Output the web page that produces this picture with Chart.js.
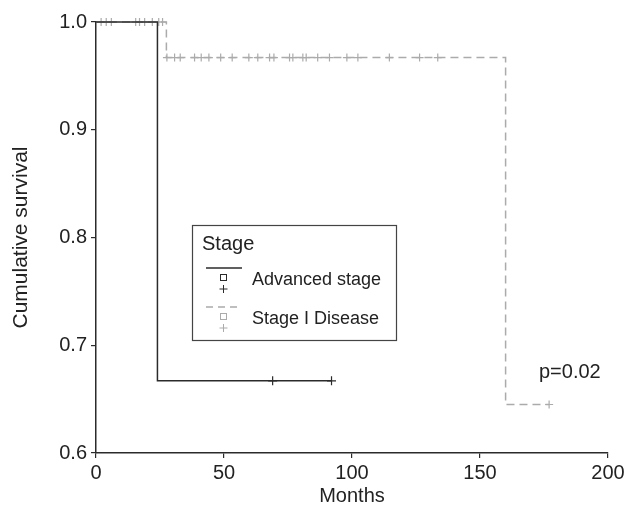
<!DOCTYPE html>
<html lang="en">
<head>
    <meta charset="UTF-8">
    <title>Cumulative survival by stage</title>
    <script src="https://cdn.jsdelivr.net/npm/chart.js"></script>
    <style>
        html, body {
            margin: 0;
            padding: 0;
            background: #fff;
        }
        .chart-box {
            width: 635px;
            height: 508px;
        }
    </style>
</head>
<body>
    <div class="chart-box">
        <canvas id="survivalChart"></canvas>
    </div>

    <script>
        // axis ticks
        const monthTicks = [0, 50, 100, 150, 200];
        const survivalTicks = [0.6, 0.7, 0.8, 0.9, 1.0];

        // Advanced stage curve (step points) and censored cases
        const advancedMonths = [0, 24, 92];
        const advancedSurvival = [1.0, 0.667, 0.667];
        const advancedCensorMonths = [69, 92];
        const advancedCensorSurvival = [0.667, 0.667];

        // Stage I disease curve (step points) and censored cases
        const stageIMonths = [0, 27.5, 160, 177];
        const stageISurvival = [1.0, 0.967, 0.645, 0.645];
        const stageICensorMonths = [
            2, 4, 6, 15.5, 17, 19, 22, 24.5, 26,
            27.7, 30.7, 32.9, 38.5, 41.1, 44.1, 48.7, 53.2, 59.7, 63.2, 67.8, 69.5,
            75.6, 76.9, 80.8, 82.1, 86.6, 91.2, 98, 102.3, 114.6, 126.4, 133.5,
            177
        ];
        const stageICensorSurvival = [
            1.0, 1.0, 1.0, 1.0, 1.0, 1.0, 1.0, 1.0, 1.0,
            0.967, 0.967, 0.967, 0.967, 0.967, 0.967, 0.967, 0.967, 0.967, 0.967, 0.967, 0.967,
            0.967, 0.967, 0.967, 0.967, 0.967, 0.967, 0.967, 0.967, 0.967, 0.967, 0.967,
            0.645
        ];

        const BLACK = "#2b2b2b";
        const GREY = "#ababab";
        const FONT = "'Liberation Sans', Arial, sans-serif";

        function toPoints(xs, ys) {
            return xs.map((x, i) => ({ x: x, y: ys[i] }));
        }

        // hand drawn legend box + p value, like the SPSS output
        const stageLegend = {
            id: "stageLegend",
            afterDraw(chart) {
                const ctx = chart.ctx;
                ctx.save();
                ctx.fillStyle = "#fff";
                ctx.fillRect(192, 225, 204, 115);
                ctx.strokeStyle = "#444";
                ctx.lineWidth = 1.2;
                ctx.strokeRect(192.5, 225.5, 204, 115);

                ctx.fillStyle = "#222";
                ctx.textBaseline = "middle";
                ctx.font = "20px " + FONT;
                ctx.fillText("Stage", 202, 244);

                const rows = [
                    { label: "Advanced stage", color: BLACK, dash: [], y: 268 },
                    { label: "Stage I Disease", color: GREY, dash: [7, 5], y: 307 }
                ];
                rows.forEach(r => {
                    ctx.strokeStyle = r.color;
                    ctx.lineWidth = 1.3;
                    ctx.setLineDash(r.dash);
                    ctx.beginPath();
                    ctx.moveTo(206, r.y);
                    ctx.lineTo(242, r.y);
                    ctx.stroke();
                    ctx.setLineDash([]);
                    ctx.lineWidth = 1;
                    ctx.strokeRect(220.5, r.y + 6.5, 6, 6);
                    ctx.beginPath();
                    ctx.moveTo(223.5, r.y + 17);
                    ctx.lineTo(223.5, r.y + 25);
                    ctx.moveTo(219.5, r.y + 21);
                    ctx.lineTo(227.5, r.y + 21);
                    ctx.stroke();
                    ctx.fillStyle = "#222";
                    ctx.font = "18px " + FONT;
                    ctx.fillText(r.label, 252, r.y + 12);
                });

                ctx.font = "20px " + FONT;
                ctx.fillText("p=0.02", 539, 372);
                ctx.restore();
            }
        };

        const ctx = document.getElementById("survivalChart").getContext("2d");
        new Chart(ctx, {
            type: "scatter",
            data: {
                datasets: [
                    {
                        label: "Advanced stage",
                        data: toPoints(advancedMonths, advancedSurvival),
                        showLine: true,
                        stepped: true,
                        borderColor: BLACK,
                        borderWidth: 1.5,
                        pointRadius: 0,
                        clip: false
                    },
                    {
                        label: "Stage I Disease",
                        data: toPoints(stageIMonths, stageISurvival),
                        showLine: true,
                        stepped: true,
                        borderColor: GREY,
                        borderWidth: 1.5,
                        borderDash: [8, 5],
                        pointRadius: 0,
                        clip: false
                    },
                    {
                        label: "Advanced censored",
                        data: toPoints(advancedCensorMonths, advancedCensorSurvival),
                        pointStyle: "cross",
                        pointRadius: 4.5,
                        borderColor: BLACK,
                        borderWidth: 1.2,
                        clip: false
                    },
                    {
                        label: "Stage I censored",
                        data: toPoints(stageICensorMonths, stageICensorSurvival),
                        pointStyle: "cross",
                        pointRadius: 4,
                        borderColor: GREY,
                        borderWidth: 1.2,
                        clip: false
                    }
                ]
            },
            options: {
                responsive: true,
                maintainAspectRatio: false,
                animation: false,
                layout: {
                    padding: { top: 22, right: 27, left: 0, bottom: 0 }
                },
                plugins: {
                    legend: { display: false },
                    tooltip: { enabled: false }
                },
                scales: {
                    x: {
                        type: "linear",
                        min: 0,
                        max: 200,
                        afterBuildTicks: s => { s.ticks = monthTicks.map(v => ({ value: v })); },
                        afterFit: s => { s.height = 55; },
                        ticks: {
                            color: "#222",
                            font: { family: FONT, size: 20 },
                            padding: 3,
                            maxRotation: 0
                        },
                        grid: { drawOnChartArea: false, tickLength: 5, color: BLACK, lineWidth: 1.2 },
                        border: { color: BLACK, width: 1.5 },
                        title: {
                            display: true,
                            text: "Months",
                            color: "#222",
                            font: { family: FONT, size: 20 },
                            padding: 0
                        }
                    },
                    y: {
                        type: "linear",
                        min: 0.6,
                        max: 1.0,
                        afterBuildTicks: s => { s.ticks = survivalTicks.map(v => ({ value: v })); },
                        afterFit: s => { s.width = 96; },
                        ticks: {
                            color: "#222",
                            font: { family: FONT, size: 20 },
                            padding: 4,
                            callback: v => v.toFixed(1)
                        },
                        grid: { drawOnChartArea: false, tickLength: 5, color: BLACK, lineWidth: 1.2 },
                        border: { color: BLACK, width: 1.5 },
                        title: {
                            display: true,
                            text: "Cumulative survival",
                            color: "#222",
                            font: { family: FONT, size: 21 },
                            padding: { top: 9, bottom: 0 }
                        }
                    }
                }
            },
            plugins: [stageLegend]
        });
    </script>
</body>
</html>
